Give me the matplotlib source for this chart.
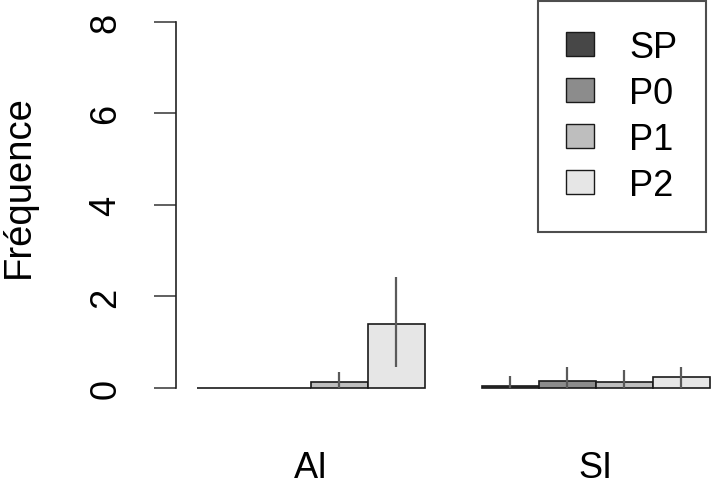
import numpy as np
import matplotlib
matplotlib.use("Agg")
import matplotlib.pyplot as plt
from matplotlib.patches import Patch

plt.rcParams['font.family'] = ['Liberation Sans', 'DejaVu Sans']

groups = ['AI', 'SI']
series = ['SP', 'P0', 'P1', 'P2']
colors = ['#474747', '#8c8c8c', '#bebebe', '#e6e6e6']
# mean values per group (rows) and series (cols)
values = [[0.0, 0.0, 0.13, 1.40],
          [0.05, 0.15, 0.13, 0.24]]
err_low = [[0.0, 0.0, 0.0, 0.46],
           [0.0, 0.0, 0.0, 0.0]]
err_high = [[0.0, 0.0, 0.35, 2.43],
            [0.27, 0.45, 0.38, 0.45]]

fig = plt.figure(figsize=(7.17, 4.85), dpi=100)
ax = fig.add_axes([0.246, 0.168, 0.7727, 0.815])

# R-style barplot positions: each group starts after a gap of 1 bar
for g in range(len(groups)):
    start = 1 + g * (len(series) + 1)
    for s in range(len(series)):
        x = start + s + 0.5
        ax.bar(x, values[g][s], width=1.0, color=colors[s],
               edgecolor='#1a1a1a', linewidth=1.2, zorder=2)
        if err_high[g][s] > err_low[g][s]:
            ax.vlines(x, err_low[g][s], err_high[g][s], color='#5a5a5a',
                      linewidth=1.6, zorder=3)

ax.set_xlim(0.64, 10.36)
ax.set_ylim(-0.32, 8.32)

centers = [1 + g * (len(series) + 1) + len(series) / 2 for g in range(len(groups))]
ax.set_xticks(centers)
ax.set_xticklabels(groups, fontsize=26)
ax.tick_params(axis='x', length=0, pad=34)

ax.set_yticks([0, 2, 4, 6, 8])
ax.tick_params(axis='y', length=16, width=1.2, pad=22, labelsize=26,
               labelrotation=90, color='#444444')
for lab in ax.get_yticklabels():
    lab.set_va('center')

for side in ['top', 'right', 'bottom']:
    ax.spines[side].set_visible(False)
ax.spines['left'].set_bounds(0, 8)
ax.spines['left'].set_linewidth(1.2)
ax.spines['left'].set_color('#222222')

ax.set_ylabel('Fréquence', fontsize=27.5)
ax.yaxis.set_label_coords(-0.252, 0.548)

handles = [Patch(facecolor=c, edgecolor='#1a1a1a', linewidth=1.0) for c in colors]
leg = fig.legend(handles, series, loc='upper right',
                 bbox_to_anchor=(706 / 717, 1 - 2 / 485),
                 fontsize=26, frameon=True, fancybox=False,
                 handlelength=0.78, handleheight=0.64, handletextpad=0.97,
                 labelspacing=0.31, borderpad=0.79, borderaxespad=0)
leg.get_frame().set_edgecolor('#222222')
leg.get_frame().set_linewidth(1.5)

fig.savefig('out.png', dpi=100)
